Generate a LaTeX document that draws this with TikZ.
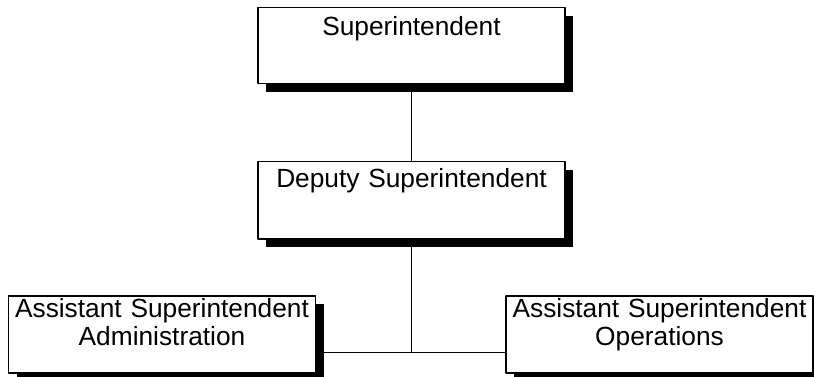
\documentclass[tikz,border=0pt]{standalone}
\usepackage{fontspec}
\setmainfont{Liberation Sans}
\usetikzlibrary{shadows,backgrounds}
\begin{document}
\begin{tikzpicture}[x=1pt,y=-1pt, line join=round, font=\fontsize{26.3}{28}\selectfont]
	\tikzset{post/.style={draw, line width=1.5pt, fill=white, anchor=north, inner sep=0pt,
			text width=307pt, align=center,
			general shadow={fill=black, shadow xshift=8pt, shadow yshift=-8pt}}}
	\useasboundingbox (0,0) rectangle (814,377);
	\node[post, text height=28pt, text depth=48pt] (sup) at (411.5,7) {Superintendent};
	\node[post, text height=26pt, text depth=51pt] (dep) at (411.5,161) {Deputy Superintendent};
	\node[post, text height=22pt, text depth=55pt] (admin) at (162,295) {Assistant Superintendent\\Administration};
	\node[post, text height=22pt, text depth=55pt] (ops) at (659.5,295) {Assistant Superintendent\\Operations};
	\coordinate (junc) at (411.5,352);
	\begin{scope}[on background layer, line width=1.5pt]
		\draw (sup.south) -- (dep.north);
		\draw (dep.south) -- (junc);
		\draw (admin.east |- junc) -- (ops.west |- junc);
	\end{scope}
\end{tikzpicture}
\end{document}
